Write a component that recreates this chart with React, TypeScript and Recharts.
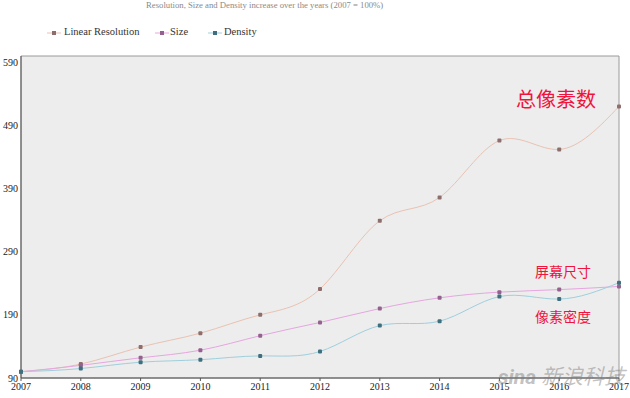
import React from 'react';
import {
  LineChart,
  Line,
  XAxis,
  YAxis,
  ReferenceArea,
} from 'recharts';

// values as % of 2007
const years = [2007, 2008, 2009, 2010, 2011, 2012, 2013, 2014, 2015, 2016, 2017];
const linearResolution = [100, 112, 139, 161, 190, 231, 339, 376, 466, 452, 520];
const size = [100, 110, 122, 134, 157, 178, 200, 217, 226, 230, 235];
const density = [100, 105, 115, 119, 125, 132, 173, 180, 219, 215, 241];
const yTicks = [90, 190, 290, 390, 490, 590];

const series = [
  { key: 'res', name: 'Linear Resolution', line: '#e9c2b2', dot: '#8d6e6c', icon: 47, text: 64 },
  { key: 'size', name: 'Size', line: '#e6a6e0', dot: '#94608e', icon: 155, text: 170 },
  { key: 'density', name: 'Density', line: '#9fcfdc', dot: '#3f6e7e', icon: 208, text: 224 },
];

const data = years.map((y, i) => ({
  year: y,
  res: linearResolution[i],
  size: size[i],
  density: density[i],
}));

const font = '"Liberation Serif", "DejaVu Serif", serif';
const cjk = '"Noto Sans CJK SC", sans-serif';

const Dot = (color: string) => (props: any) => {
  const { cx, cy } = props;
  if (cx == null || cy == null) return null;
  return <rect x={cx - 2} y={cy - 2} width={4} height={4} rx={1} fill={color} />;
};

export default function App() {
  return (
    <div style={{ position: 'absolute', left: 0, top: 0, width: 630, height: 398, fontFamily: font }}>
      <div style={{ position: 'absolute', left: 146, top: 0, fontSize: 8.7, color: '#8a8a8a', whiteSpace: 'nowrap' }}>
        Resolution, Size and Density increase over the years (2007 = 100%)
      </div>
      {series.map((s) => (
        <React.Fragment key={s.key}>
          <svg width={14} height={10} style={{ position: 'absolute', left: s.icon, top: 28 }}>
            <line x1={0} y1={5} x2={14} y2={5} stroke={s.line} strokeWidth={1} />
            <rect x={5} y={3} width={4} height={4} fill={s.dot} />
          </svg>
          <div style={{ position: 'absolute', left: s.text, top: 26, fontSize: 10.5, color: '#333', whiteSpace: 'nowrap' }}>
            {s.name}
          </div>
        </React.Fragment>
      ))}
      <LineChart width={630} height={398} data={data} margin={{ top: 56, right: 11, bottom: 0, left: 0 }}>
        <ReferenceArea x1={2007} x2={2017} y1={90} y2={600} fill="#ededed" fillOpacity={1} stroke="#9a9a9a" strokeWidth={1} />
        <XAxis
          dataKey="year"
          type="number"
          domain={[2007, 2017]}
          ticks={years}
          height={20}
          tickSize={3}
          tick={{ fontSize: 10, fill: '#222', fontFamily: font }}
          stroke="#555"
          interval={0}
        />
        <YAxis
          domain={[90, 600]}
          ticks={yTicks}
          width={21}
          tickLine={false}
          tickSize={0}
          tickMargin={3}
          tick={{ fontSize: 10, fill: '#222', fontFamily: font }}
          stroke="#555"
          allowDataOverflow
        />
        {series.map((s) => (
          <Line
            key={s.key}
            dataKey={s.key}
            name={s.name}
            type="natural"
            stroke={s.line}
            strokeWidth={1}
            dot={Dot(s.dot)}
            activeDot={false}
            isAnimationActive={false}
          />
        ))}
      </LineChart>
      <div style={{ position: 'absolute', left: 516, top: 84, fontSize: 20, color: '#f0143c', fontFamily: cjk }}>总像素数</div>
      <div style={{ position: 'absolute', left: 535, top: 261, fontSize: 14, color: '#f0143c', fontFamily: cjk }}>屏幕尺寸</div>
      <div style={{ position: 'absolute', left: 535, top: 306, fontSize: 14, color: '#f0143c', fontFamily: cjk }}>像素密度</div>
      <div style={{ position: 'absolute', left: 498, top: 360, fontSize: 21, color: 'rgba(120,120,120,0.45)', fontFamily: cjk, fontStyle: 'italic', whiteSpace: 'nowrap' }}>
        <span style={{ fontFamily: 'Roboto, sans-serif', fontWeight: 700 }}>sina</span> 新浪科技
      </div>
    </div>
  );
}
